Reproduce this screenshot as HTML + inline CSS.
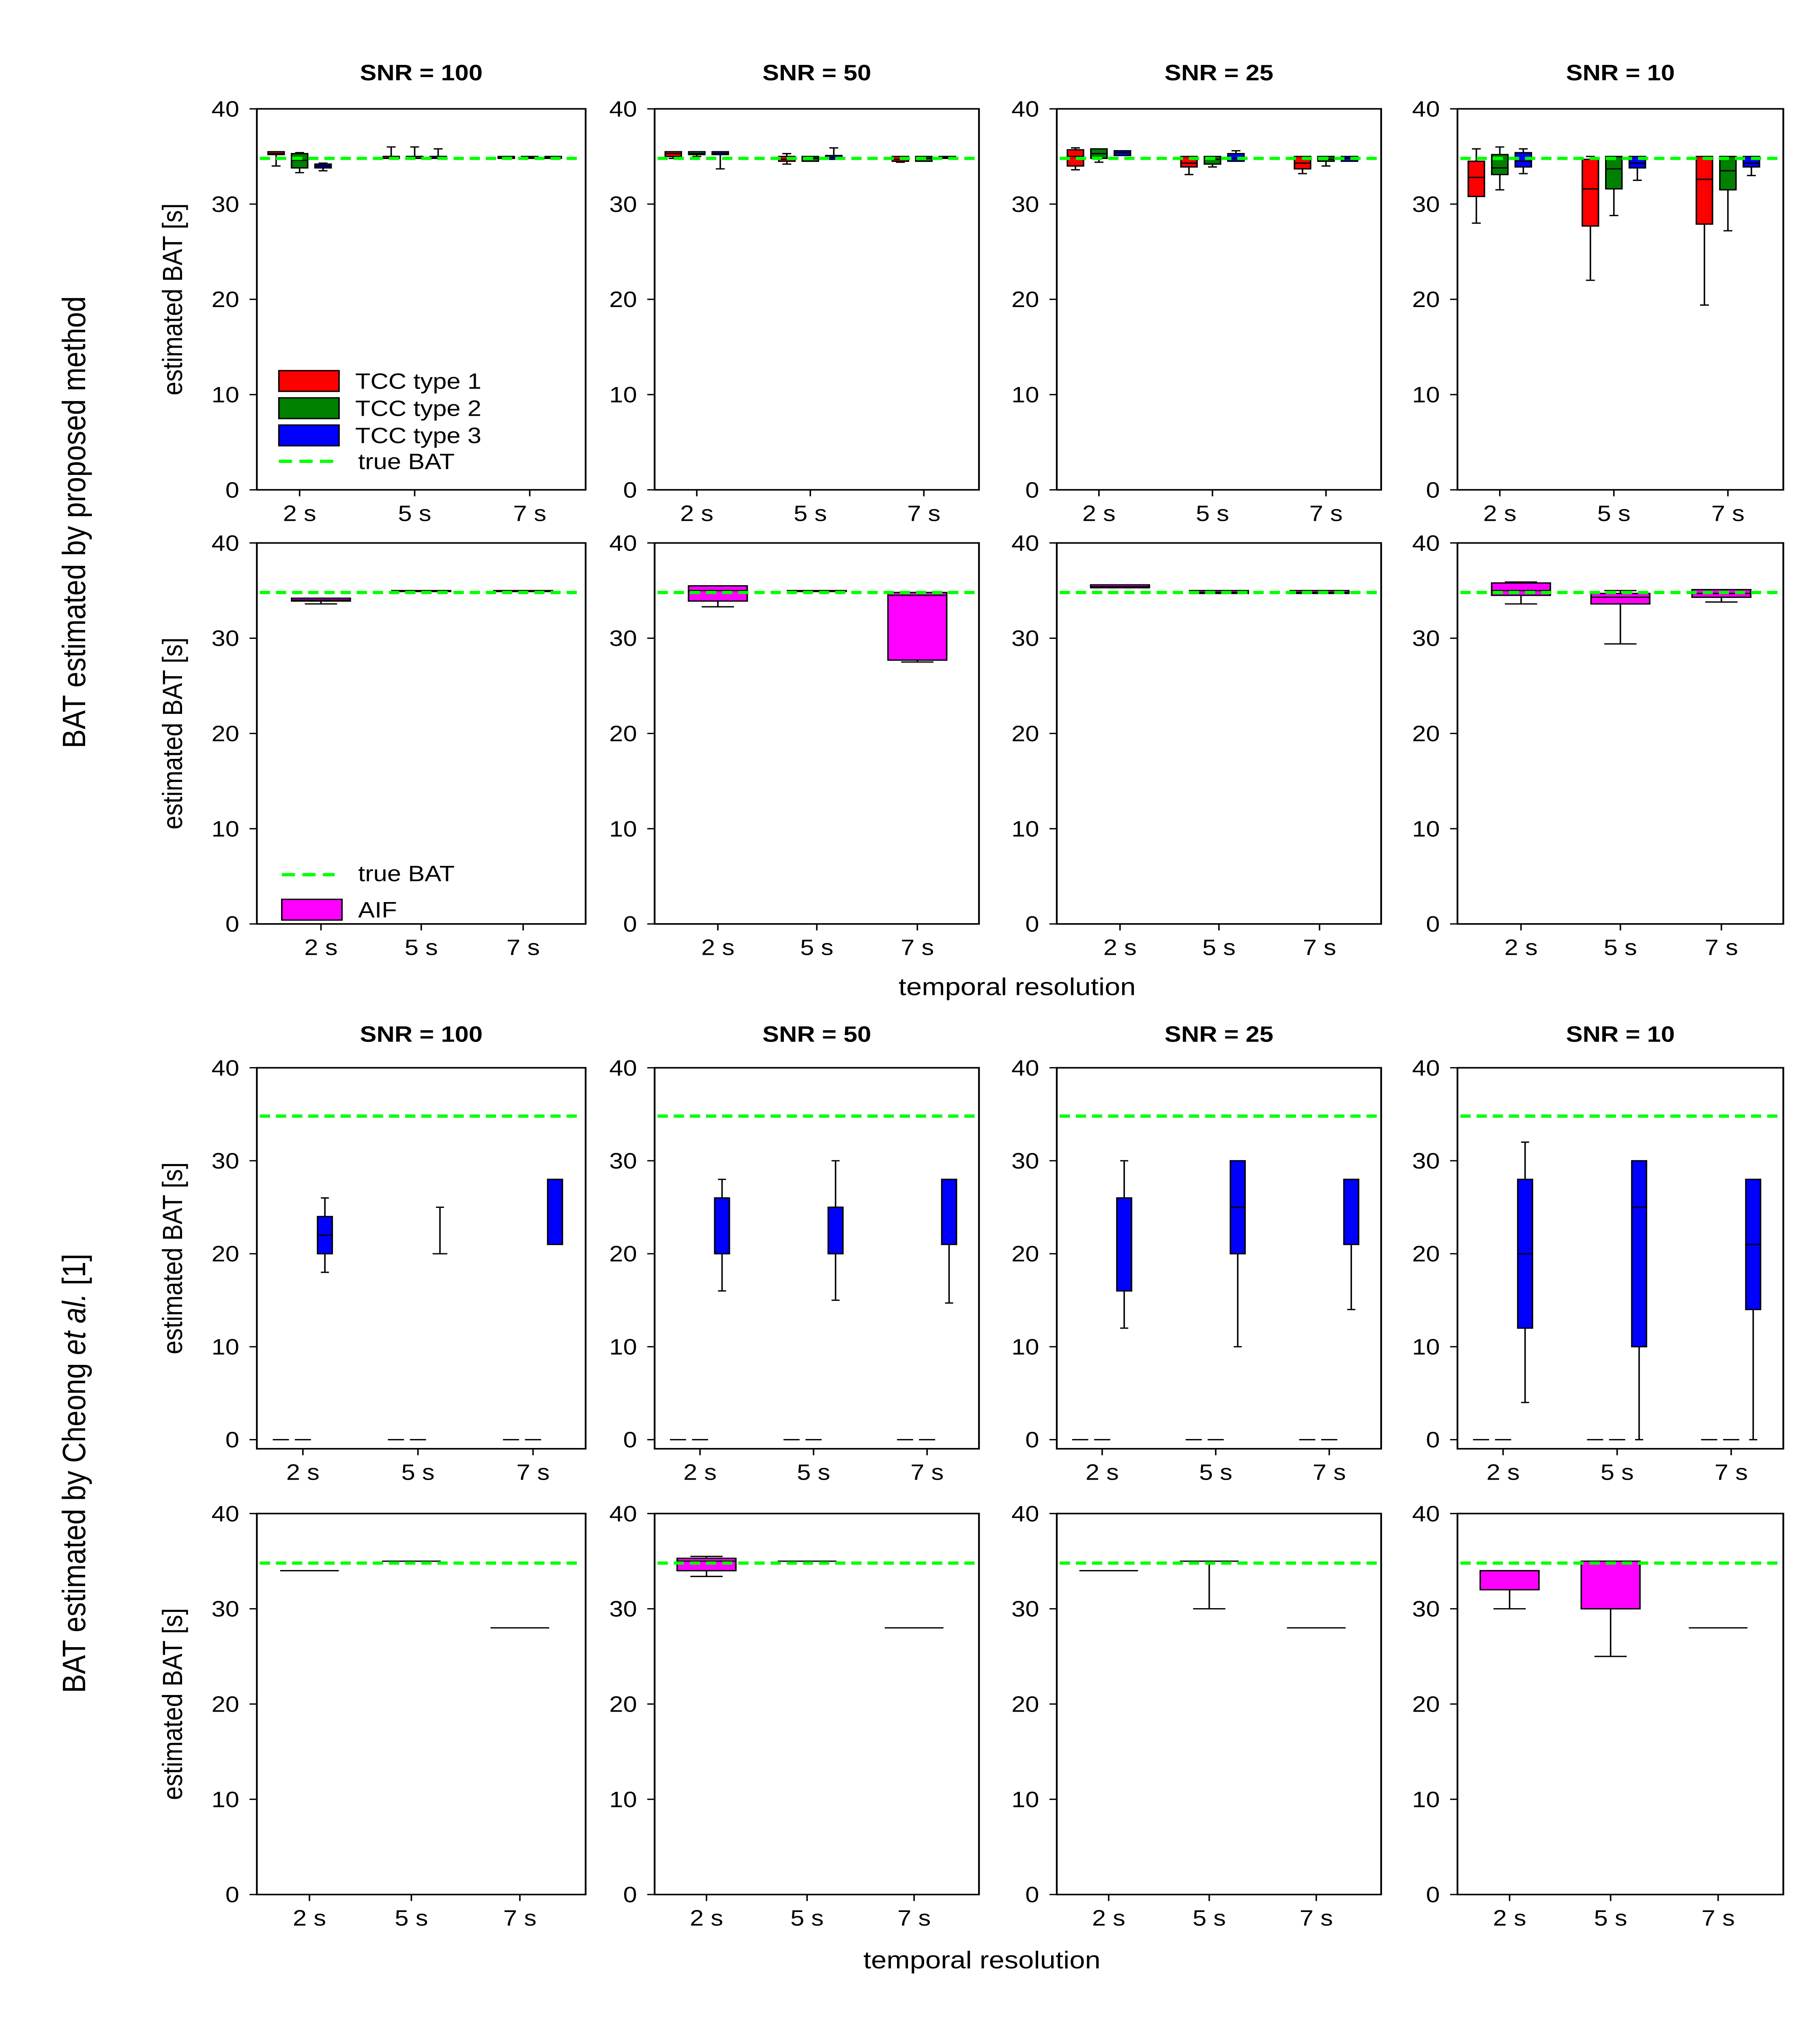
<!DOCTYPE html>
<html><head><meta charset="utf-8"><style>
html,body{margin:0;padding:0;background:#fff;width:100%;height:100%;overflow:hidden;}
svg{display:block;position:fixed;left:0;top:0;width:100vw;height:100vh;}
text{font-family:"Liberation Sans",Arial,sans-serif;fill:#000;}
</style></head><body>
<svg id="fig" viewBox="0 0 1240 1565" preserveAspectRatio="none" xmlns="http://www.w3.org/2000/svg"></svg>
<script>
// ---- data: [q1, median, q3, whiskerLow, whiskerHigh] ----
const categories = ["2 s","5 s","7 s"];
const snrTitlesTop = ["SNR = 100","SNR =  50","SNR = 25","SNR = 10"];
const snrTitlesBottom = ["SNR = 100","SNR = 50","SNR = 25","SNR = 10"];
const yTicks = [0,10,20,30,40];
const trueBAT = 34.8;
const propTCC_snr100 = [
 [[35.2,35.3,35.5,34,35.5],[33.8,34.6,35.3,33.3,35.4],[33.8,34,34.2,33.5,34.3]],
 [[34.8,35,35,34.8,36],[34.8,35,35,34.8,36],[34.8,35,35,34.8,35.8]],
 [[34.8,34.9,35,34.8,35],[34.8,34.9,35,34.8,35],[34.8,34.9,35,34.8,35]]];
const propTCC_snr50 = [
 [[35,35.3,35.5,34.8,35.5],[35.2,35.3,35.5,35,35.5],[35.2,35.3,35.5,33.7,35.5]],
 [[34.5,34.7,35,34.2,35.3],[34.5,34.8,35,34.5,35],[34.7,34.9,35.1,34.7,35.9]],
 [[34.5,34.7,35,34.4,35],[34.5,34.8,35,34.5,35],[34.8,34.9,35,34.8,35]]];
const propTCC_snr25 = [
 [[34,35,35.7,33.6,35.9],[34.8,35.3,35.8,34.4,35.8],[35.1,35.4,35.6,35.1,35.6]],
 [[33.9,34.3,35,33.1,35],[34.2,34.7,35,33.9,35],[34.5,34.8,35.3,34.5,35.6]],
 [[33.7,34.3,35,33.2,35],[34.5,34.7,35,34,35],[34.5,34.8,35,34.5,35]]];
const propTCC_snr10 = [
 [[30.8,32.8,34.5,28,35.8],[33.1,33.8,35.2,31.5,36],[33.9,34.5,35.4,33.2,35.8]],
 [[27.7,31.6,34.7,22,35],[31.6,33.7,35,28.8,35],[33.8,34.3,35,32.5,35]],
 [[27.9,32.6,35,19.4,35],[31.5,33.5,35,27.2,35],[33.9,34.3,35,33,35]]];
const propAIF = [
 [[33.9,34,34.2,33.6,34.2],[34.9,34.9,35,34.9,35],[34.9,34.9,35,34.9,35]],
 [[33.9,35,35.5,33.3,35.5],[34.9,34.9,35,34.9,35],[27.7,34.5,34.8,27.5,34.8]],
 [[35.3,35.4,35.6,35.3,35.6],[34.7,34.8,35,34.7,35],[34.7,34.8,35,34.7,35]],
 [[34.5,35,35.8,33.6,35.9],[33.6,34.3,34.7,29.4,35],[34.3,34.7,35.1,33.8,35.1]]];
const cheongTCC3 = [
 [[20,22,24,18,26],[20,20,20,20,25],[21,28,28,21,28]],
 [[20,26,26,16,28],[20,25,25,15,30],[21,28,28,14.7,28]],
 [[16,26,26,12,30],[20,25,30,10,30],[21,28,28,14,28]],
 [[12,20,28,4,32],[10,25,30,0,30],[14,21,28,0,28]]];
const cheongTCC12 = [0,0,0];
const cheongAIF = [
 [[34,34,34,34,34],[35,35,35,35,35],[28,28,28,28,28]],
 [[34,35,35.3,33.4,35.5],[35,35,35,35,35],[28,28,28,28,28]],
 [[34,34,34,34,34],[35,35,35,30,35],[28,28,28,28,28]],
 [[32,34,34,30,34],[30,35,35,25,35],[28,28,28,28,28]]];

const NS="http://www.w3.org/2000/svg";
const svg=document.getElementById('fig');
function el(tag,attrs,parent){const e=document.createElementNS(NS,tag);for(const k in attrs)e.setAttribute(k,attrs[k]);(parent||svg).appendChild(e);return e;}
function txt(s,x,y,size,opts,parent){const t=el('text',Object.assign({x:x,y:y,'font-size':size,'text-anchor':'middle'},opts||{}),parent);t.textContent=s;return t;}
const panelX=[[175,399],[446,667],[720,941],[993,1215]];
const rows=[
 {top:84,y0:378,y40:84,bottom:378,frac:[.13,.48,.83]},
 {top:419,y0:713,y40:419,bottom:713,frac:[.195,.5,.81]},
 {top:824,y0:1111,y40:824,bottom:1118,frac:[.14,.49,.84]},
 {top:1168,y0:1462,y40:1168,bottom:1462,frac:[.16,.47,.80]}];
const colors=["#ff0000","#008000","#0000ff"];
function yScale(r,v){return r.y0-(r.y0-r.y40)*v/40;}
function xScale(r,p,i){const [a,b]=panelX[p];return a+(b-a)*r.frac[i];}

function drawBox(g,r,cx,w,d,fill,name){
 const grp=el('g',{},g);
 
 
 const [q1,med,q3,lo,hi]=d;
 const yl=yScale(r,lo),yh=yScale(r,hi),y1=yScale(r,q1),y3=yScale(r,q3),ym=yScale(r,med);
 const cw=w*0.55;
 if(hi>q3){el('line',{x1:cx,x2:cx,y1:y3,y2:yh,stroke:'#000','stroke-width':1},grp);el('line',{x1:cx-cw/2,x2:cx+cw/2,y1:yh,y2:yh,stroke:'#000','stroke-width':1},grp);}
 if(lo<q1){el('line',{x1:cx,x2:cx,y1:y1,y2:yl,stroke:'#000','stroke-width':1},grp);el('line',{x1:cx-cw/2,x2:cx+cw/2,y1:yl,y2:yl,stroke:'#000','stroke-width':1},grp);}
 if(q3>q1) el('rect',{x:cx-w/2,y:y3,width:w,height:y1-y3,fill:fill,stroke:'#000','stroke-width':1},grp);
 el('line',{x1:cx-w/2,x2:cx+w/2,y1:ym,y2:ym,stroke:'#000','stroke-width':1},grp);
}

function drawPanel(ri,p,title){
 const r=rows[ri];const [a,b]=panelX[p];
 const g=el('g',{});
 
 
 el('rect',{x:a,y:r.top,width:b-a,height:r.bottom-r.top,fill:'none',stroke:'#000','stroke-width':1.2},g);
 for(const t of yTicks){const y=yScale(r,t);
  el('line',{x1:a-5,x2:a,y1:y,y2:y,stroke:'#000','stroke-width':1},g);
  const tl=txt(String(t),a-12,y+6,17,{'text-anchor':'end'},g);
  }
 for(let i=0;i<3;i++){const x=xScale(r,p,i);
  el('line',{x1:x,x2:x,y1:r.bottom,y2:r.bottom+5,stroke:'#000','stroke-width':1},g);
  const tl=txt(categories[i],x,r.bottom+24,17,{},g);
  }
 if(title){const tt=txt(title,(a+b)/2,ri===0?62:804,17,{'font-weight':'bold'},g);
  }
 return g;
}
function trueLine(g,ri,p){const r=rows[ri];const [a,b]=panelX[p];const y=yScale(r,trueBAT);
 const l=el('line',{x1:a+2,x2:b-2,y1:y,y2:y,stroke:'#00ff00','stroke-width':2.5,'stroke-dasharray':'7,4'},g);
 }

const propTCC=[propTCC_snr100,propTCC_snr50,propTCC_snr25,propTCC_snr10];
for(let p=0;p<4;p++){
 let g=drawPanel(0,p,snrTitlesTop[p]);
 for(let i=0;i<3;i++){const cx=xScale(rows[0],p,i);
  for(let t=0;t<3;t++) drawBox(g,rows[0],cx+(t-1)*16,11,propTCC[p][i][t],colors[t],'box-tcc'+(t+1));}
 trueLine(g,0,p);
 g=drawPanel(1,p,null);
 for(let i=0;i<3;i++) drawBox(g,rows[1],xScale(rows[1],p,i),40,propAIF[p][i],'#ff00ff','box-aif');
 trueLine(g,1,p);
 g=drawPanel(2,p,snrTitlesBottom[p]);
 for(let i=0;i<3;i++){const cx=xScale(rows[2],p,i);
  for(let t=0;t<2;t++){const v=cheongTCC12[i];drawBox(g,rows[2],cx+(t-1)*15,11,[v,v,v,v,v],colors[t],'box-tcc'+(t+1));}
  drawBox(g,rows[2],cx+15,10,cheongTCC3[p][i],colors[2],'box-tcc3');}
 trueLine(g,2,p);
 g=drawPanel(3,p,null);
 for(let i=0;i<3;i++) drawBox(g,rows[3],xScale(rows[3],p,i),40,cheongAIF[p][i],'#ff00ff','box-aif');
 trueLine(g,3,p);
}
[0,1,2,3].forEach(ri=>{const r=rows[ri];const cy=(r.top+r.bottom)/2;
 const t=txt('estimated BAT [s]',124,cy,19,{transform:'rotate(-90 124 '+cy+')'});
 });
let gl=txt('BAT estimated by proposed method',58,403,22,{transform:'rotate(-90 58 403)'});

gl=el('text',{x:58,y:1137,'font-size':22,'text-anchor':'middle',transform:'rotate(-90 58 1137)'});
gl.innerHTML='BAT estimated by Cheong <tspan font-style="italic">et al.</tspan> [1]';

let xt=txt('temporal resolution',693,768,19);

xt=txt('temporal resolution',669,1519,19);

const lg=el('g',{});


["TCC type 1","TCC type 2","TCC type 3"].forEach((s,i)=>{
 const y=286+i*21;
 el('rect',{x:190,y:y,width:41,height:16,fill:colors[i],stroke:'#000','stroke-width':1},lg);
 txt(s,242,y+14,17,{'text-anchor':'start'},lg);});
el('line',{x1:190,x2:228,y1:356,y2:356,stroke:'#00ff00','stroke-width':2.5,'stroke-dasharray':'9,5'},lg);
txt('true BAT',244,362,17,{'text-anchor':'start'},lg);
const lg2=el('g',{});


el('line',{x1:192,x2:228,y1:675,y2:675,stroke:'#00ff00','stroke-width':2.5,'stroke-dasharray':'9,5'},lg2);
txt('true BAT',244,680,17,{'text-anchor':'start'},lg2);
el('rect',{x:192,y:694,width:41,height:16,fill:'#ff00ff',stroke:'#000','stroke-width':1},lg2);
txt('AIF',244,708,17,{'text-anchor':'start'},lg2);
</script>
</body></html>
